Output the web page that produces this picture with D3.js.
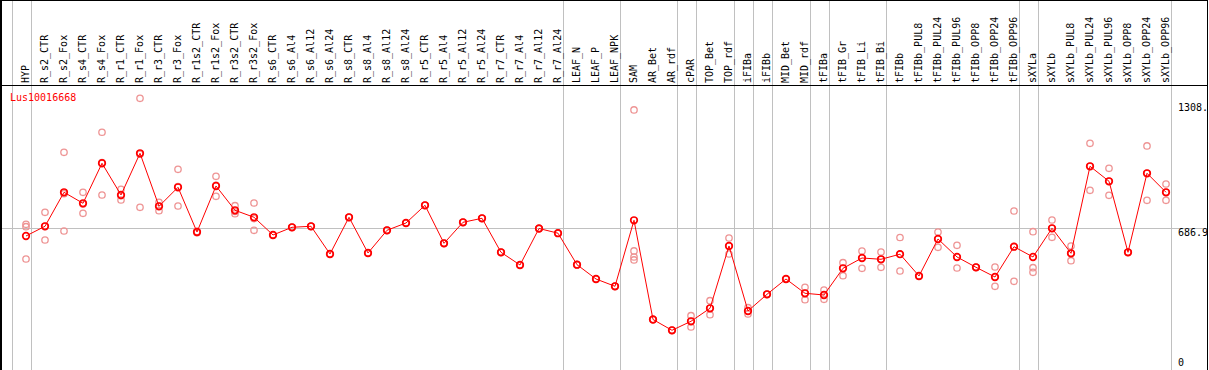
<!DOCTYPE html>
<html><head><meta charset="utf-8">
<script src="https://cdn.jsdelivr.net/npm/d3@7"></script>
<style>body{margin:0;background:#fff;}svg{display:block;}</style>
</head><body>
<svg id="chart" width="1209" height="370"></svg>
<script>
const geneName = "Lus10016668";
const categories = ["HYP","R_s2_CTR","R_s2_Fox","R_s4_CTR","R_s4_Fox","R_r1_CTR","R_r1_Fox","R_r3_CTR","R_r3_Fox","R_r1s2_CTR","R_r1s2_Fox","R_r3s2_CTR","R_r3s2_Fox","R_s6_CTR","R_s6_Al4","R_s6_Al12","R_s6_Al24","R_s8_CTR","R_s8_Al4","R_s8_Al12","R_s8_Al24","R_r5_CTR","R_r5_Al4","R_r5_Al12","R_r5_Al24","R_r7_CTR","R_r7_Al4","R_r7_Al12","R_r7_Al24","LEAF_N","LEAF_P","LEAF_NPK","SAM","AR_Bet","AR_rdf","cPAR","TOP_Bet","TOP_rdf","iFIBa","iFIBb","MID_Bet","MID_rdf","tFIBa","tFIB_Gr","tFIB_Li","tFIB_Bi","tFIBb","tFIBb_PUL8","tFIBb_PUL24","tFIBb_PUL96","tFIBb_OPP8","tFIBb_OPP24","tFIBb_OPP96","sXYLa","sXYLb","sXYLb_PUL8","sXYLb_PUL24","sXYLb_PUL96","sXYLb_OPP8","sXYLb_OPP24","sXYLb_OPP96"];
const means = [648.6,696.9,866.1,811.4,1010.5,852.7,1060.2,796.4,891.0,668.5,897.5,776.5,741.7,653.6,691.9,696.9,559.0,741.7,564.0,677.0,713.3,801.4,612.2,716.8,736.7,567.4,504.2,685.9,662.5,505.7,434.5,398.2,726.7,233.0,179.2,224.0,288.7,598.8,275.3,358.4,434.5,363.4,354.9,487.8,539.1,532.6,558.0,449.5,633.7,544.1,492.8,444.5,595.3,544.1,686.9,562.5,995.5,920.9,567.4,960.7,866.1];
const replicates = [
 [706.8,694.9,534.1],[766.6,628.7,696.9],[1065.2,673.5,859.1],[866.1,761.6,807.9],[1164.8,852.7,1013.5],
 [881.0,827.8,849.2],[1334.0,791.4,1055.3],[816.3,774.5,797.9],[980.6,797.9,894.5],[670,665,671],
 [945.7,846.2,900.4],[799.4,759.6,770.5],[812.8,677.0,735.2],[653.6,653.6,653.6],[691.9,691.9,691.9],
 [696.9,696.9,696.9],[559.0,559.0,559.0],[741.7,741.7,741.7],[564.0,564.0,564.0],[677.0,677.0,677.0],
 [713.3,713.3,713.3],[801.4,801.4,801.4],[612.2,612.2,612.2],[716.8,716.8,716.8],[736.7,736.7,736.7],
 [567.4,567.4,567.4],[504.2,504.2,504.2],[685.9,685.9,685.9],[662.5,662.5,662.5],[505.7,505.7,505.7],
 [434.5,434.5,434.5],[398.2,398.2,398.2],[1275.8,574.0,544.1,529.2],[233.0,233.0,233.0],[179.2,179.2,179.2],
 [251.9,195.6,224.0],[326.5,256.8,288.7],[638.6,559.0,598.8],[291.7,260.3,275.3],[358.4,358.4,358.4],
 [434.5,434.5,434.5],[393.2,331.5,363.4],[379.8,333.5,354.9],[515.7,451.0,487.8],[573.9,487.8,539.1],
 [568.9,492.8,532.6],[641.1,474.4,558.0],[449.5,449.5,449.5],[668.5,592.3,633.7],[602.3,489.3,544.1],
 [492.8,492.8,492.8],[494.3,398.2,444.5],[773.0,423.1,595.3],[670.0,490.8,467.9],[728.2,642.1,686.9],
 [598.8,525.6,562.5],[1110.0,876.1,995.5],[985.6,851.2,920.9],[567.4,567.4,567.4],[1096.6,826.3,960.7],
 [907.4,826.3,866.1]
];
const yTicks = [0, 686.9, 1308];
const yTickLabels = ["0", "686.9", "1308."];
const refLine = 686.9;
const groupEnds = ["HYP","R_r7_Al24","LEAF_NPK","AR_rdf","cPAR","TOP_rdf","iFIBa","iFIBb","MID_rdf","tFIBa","tFIB_Bi","tFIBb_OPP96","sXYLa","sXYLb_OPP96"];

const W = 1209, H = 370, headerH = 85, rightEdge = 1207;
const svg = d3.select("#chart");
const font = "'DejaVu Sans Mono', monospace";

const x = d3.scalePoint().domain(categories).range([26, 1166]).padding(0);
const step = x.step();
const y = d3.scaleLinear().domain([0, 1308]).range([366.3, 103.5]);

// group separators (vertical grid)
const sepX = [x(categories[0]) - step + 4.5].concat(groupEnds.map(c => x(c) + 4.5));
svg.append("g").selectAll("line").data(sepX).join("line")
  .attr("x1", d => Math.round(d) + 0.5).attr("x2", d => Math.round(d) + 0.5)
  .attr("y1", 0).attr("y2", H)
  .attr("stroke", "#c0c0c0").attr("stroke-width", 1);

// reference horizontal line
svg.append("line")
  .attr("x1", 1).attr("x2", rightEdge)
  .attr("y1", Math.round(y(refLine)) + 0.5).attr("y2", Math.round(y(refLine)) + 0.5)
  .attr("stroke", "#c0c0c0").attr("stroke-width", 1);

// borders
const b = svg.append("g").attr("stroke", "#000").attr("stroke-width", 1);
b.append("line").attr("x1", 0).attr("x2", rightEdge + 1).attr("y1", 0.5).attr("y2", 0.5);
b.append("line").attr("x1", 0).attr("x2", rightEdge + 1).attr("y1", headerH + 0.5).attr("y2", headerH + 0.5);
b.append("line").attr("x1", 1).attr("x2", 1).attr("y1", 0).attr("y2", H).attr("stroke-width", 2);
b.append("line").attr("x1", rightEdge + 0.5).attr("x2", rightEdge + 0.5).attr("y1", 0).attr("y2", H);

// header labels
svg.append("g").selectAll("text").data(categories).join("text")
  .attr("transform", d => `translate(${x(d) + 2.5},83) rotate(-90)`)
  .attr("font-family", font).attr("font-size", 10).attr("fill", "#000")
  .text(d => d);

// gene name
svg.append("text").attr("x", 10).attr("y", 101)
  .attr("font-family", font).attr("font-size", 10).attr("fill", "#ff0000")
  .text(geneName);

// right axis labels
svg.append("g").selectAll("text").data(yTicks).join("text")
  .attr("x", 1178).attr("y", d => Math.min(y(d) + 7.8, 365.5))
  .attr("font-family", font).attr("font-size", 10).attr("fill", "#000")
  .text((d, i) => yTickLabels[i]);

// replicate points
const repData = [];
replicates.forEach((arr, i) => arr.forEach(v => repData.push({c: categories[i], v})));
svg.append("g").selectAll("circle").data(repData).join("circle")
  .attr("cx", d => x(d.c)).attr("cy", d => y(d.v)).attr("r", 3.2)
  .attr("fill", "none").attr("stroke", "#ee9494").attr("stroke-width", 1.3);

// mean line
svg.append("path").datum(means)
  .attr("d", d3.line().x((d, i) => x(categories[i])).y(d => y(d)))
  .attr("fill", "none").attr("stroke", "#ff0000").attr("stroke-width", 1);

// mean markers
svg.append("g").selectAll("circle").data(means).join("circle")
  .attr("cx", (d, i) => x(categories[i])).attr("cy", d => y(d)).attr("r", 3.3)
  .attr("fill", "none").attr("stroke", "#ff0000").attr("stroke-width", 1.7);
</script>
</body></html>
